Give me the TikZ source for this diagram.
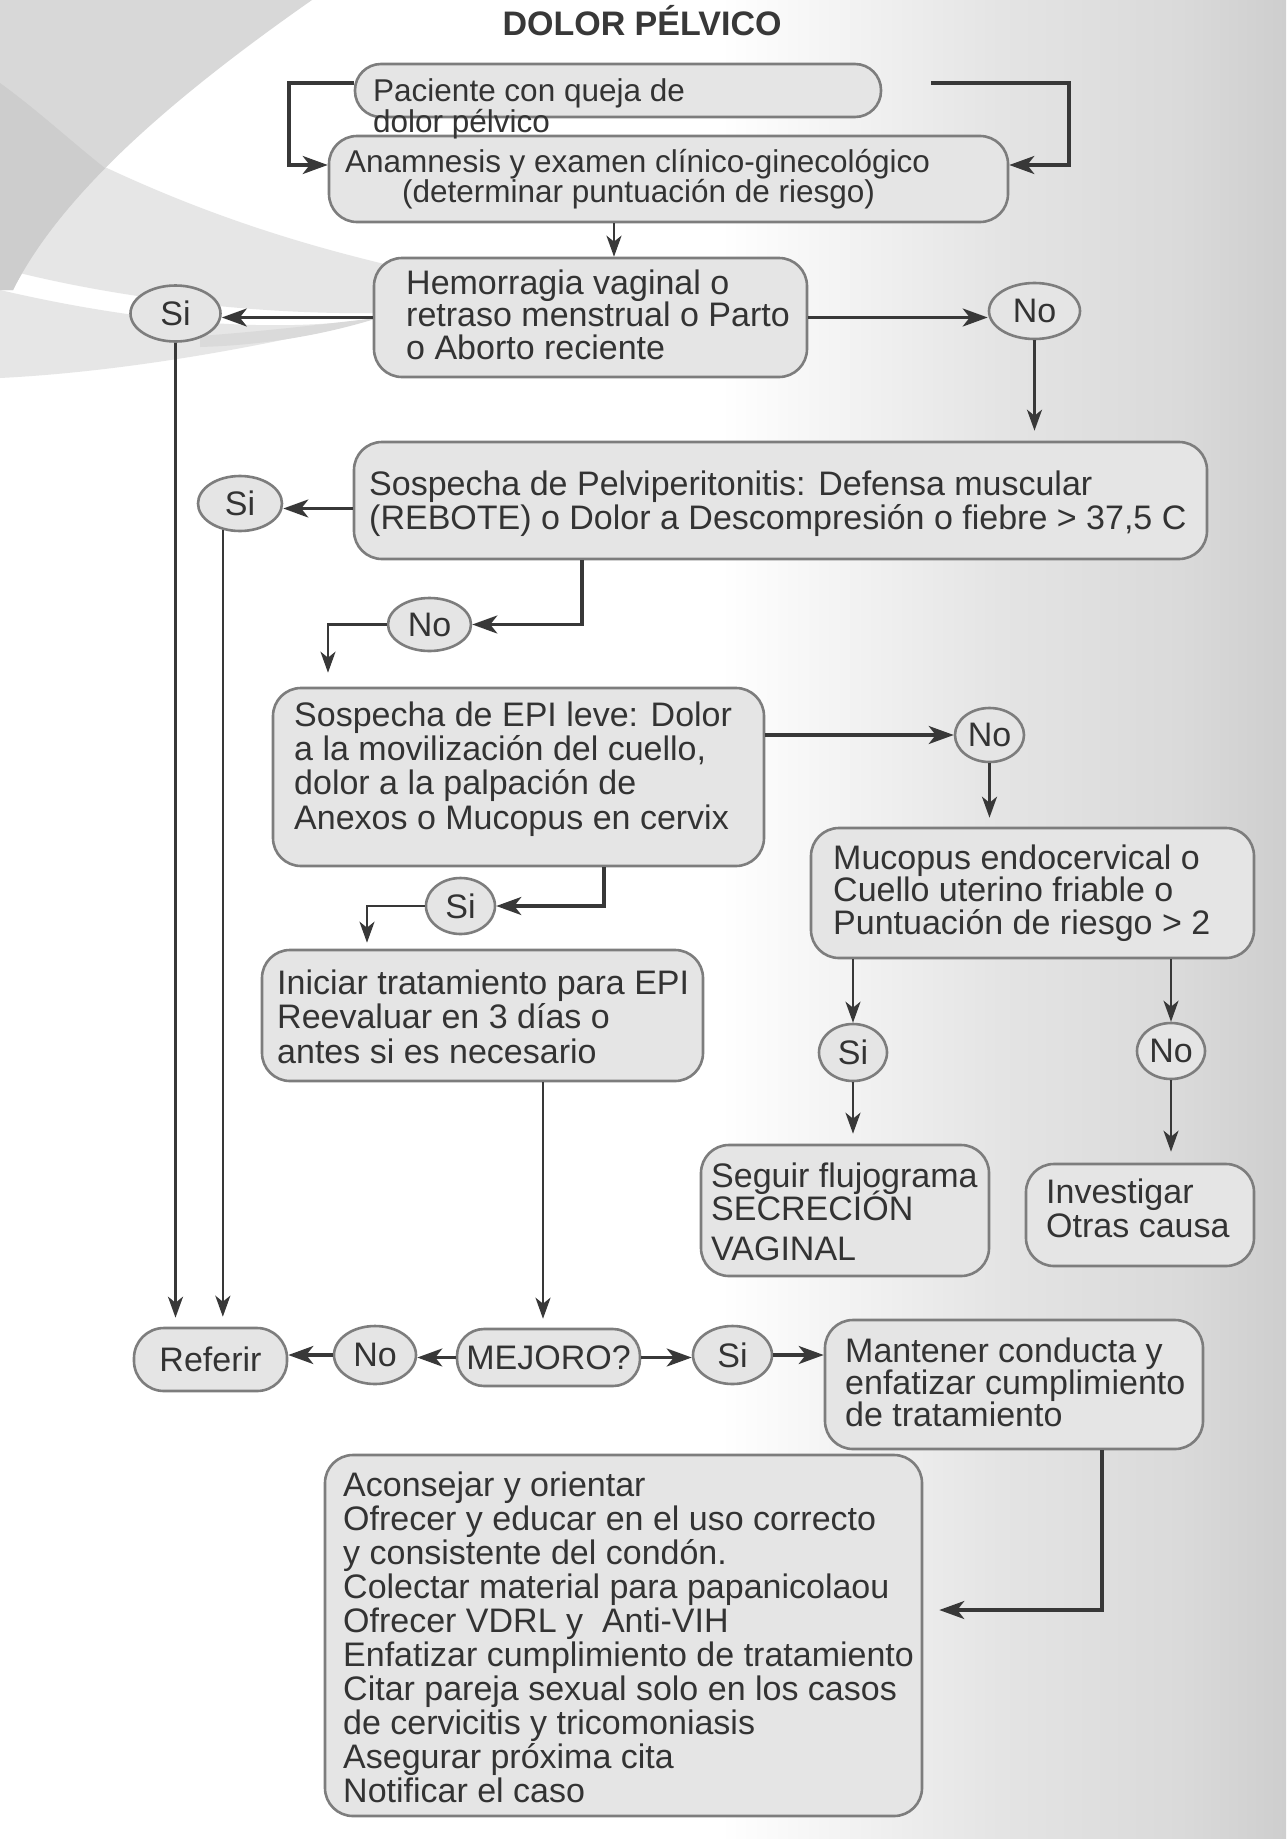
\documentclass[tikz,border=0pt]{standalone}
\usepackage{fontspec}
\setmainfont{Liberation Sans}
\usetikzlibrary{arrows.meta,shapes.geometric}

\definecolor{boxfill}{HTML}{E5E5E5}
\definecolor{boxline}{HTML}{7D7D7D}
\definecolor{ink}{HTML}{383838}
\definecolor{txtc}{HTML}{333333}
\definecolor{swoA}{HTML}{D8D8D8}
\definecolor{swoB}{HTML}{CDCDCD}
\definecolor{swoC}{HTML}{E6E6E6}
\definecolor{swoD}{HTML}{DADADA}
\definecolor{grA}{HTML}{E4E4E4}
\definecolor{grB}{HTML}{DADADA}
\definecolor{grC}{HTML}{CECECE}

% body text with a chosen line pitch
\newcommand\bodyfont[1]{\fontsize{34}{#1}\selectfont\lineskiplimit=-100pt\relax}
\newcommand\smallfont[1]{\fontsize{31.5}{#1}\selectfont\lineskiplimit=-100pt\relax}
% strut: 27pt above the baseline, 7pt below
\newcommand\ts{\rule[-7pt]{0pt}{34pt}}

\tikzset{
  box/.style={draw=boxline, fill=boxfill, line width=2.6pt, rounded corners=28pt, inner sep=0pt},
  dec/.style={ellipse, draw=boxline, fill=boxfill, line width=2.6pt, inner sep=0pt,
              text=txtc, font=\bodyfont{34}},
  txt/.style={anchor=north west, inner sep=0pt, align=left, text=txtc},
  con/.style={draw=ink, line width=2.6pt, -{Stealth[length=21pt,width=15pt,inset=6pt]}},
  conb/.style={draw=ink, line width=3.2pt, -{Stealth[length=25pt,width=18pt,inset=7pt]}},
}

\begin{document}
\begin{tikzpicture}[x=1pt,y=-1pt]
\useasboundingbox (0,0) rectangle (1286,1839);

% ---------- background ----------
\fill[white] (0,0) rectangle (1286,1839);
\shade[left color=white, right color=grA] (720,0) rectangle (1000,1839);
\shade[left color=grA, right color=grB] (1000,0) rectangle (1181,1839);
\shade[left color=grB, right color=grC] (1180,0) rectangle (1286,1839);

% swooshes in the upper left corner
\fill[swoC] (90,160) .. controls (200,213) and (300,245) .. (410,270)
  -- (410,312) .. controls (280,318) and (120,300) .. (0,268) -- (0,160) -- cycle;
\fill[swoC] (0,290) .. controls (120,318) and (260,336) .. (378,318)
  .. controls (260,348) and (120,372) .. (0,378) -- cycle;
\fill[swoD] (200,336) .. controls (280,330) and (340,322) .. (378,318)
  .. controls (330,333) and (270,345) .. (200,347) -- cycle;
\fill[swoA] (0,0) -- (312,0) .. controls (182,91) and (63,190) .. (13,290) -- (0,290) -- cycle;
\begin{scope}
  \clip (0,0) -- (312,0) .. controls (182,91) and (63,190) .. (13,290) -- (0,290) -- cycle;
  \fill[swoB] (0,83) .. controls (40,112) and (75,145) .. (110,172) -- (220,172)
    -- (220,300) -- (0,300) -- cycle;
\end{scope}

% ---------- title ----------
\node[font=\bfseries\fontsize{34}{34}\selectfont, text=ink, anchor=base] (title)
  at (642,35) {DOLOR PÉLVICO};

% ---------- boxes ----------
\node[box, minimum width=526pt, minimum height=53pt, rounded corners=26pt] (b1) at (618,90.5) {};
\node[box, minimum width=679pt, minimum height=86pt] (b2) at (668.5,179) {};
\node[box, minimum width=433pt, minimum height=119pt] (b3) at (590.5,317.5) {};
\node[box, minimum width=853pt, minimum height=117pt] (b4) at (780.5,500.5) {};
\node[box, minimum width=491pt, minimum height=178pt] (b5) at (518.5,777) {};
\node[box, minimum width=443pt, minimum height=130pt] (b6) at (1032.5,893) {};
\node[box, minimum width=441pt, minimum height=131pt] (b7) at (482.5,1015.5) {};
\node[box, minimum width=288pt, minimum height=131pt] (b8) at (845,1210.5) {};
\node[box, minimum width=228pt, minimum height=102pt] (b9) at (1140,1215) {};
\node[box, minimum width=378pt, minimum height=129pt] (b10) at (1014,1384.5) {};
\node[box, minimum width=597pt, minimum height=361pt] (b11) at (623.5,1635.5) {};
\node[box, minimum width=153pt, minimum height=63pt, rounded corners=30pt,
      font=\bodyfont{34}, text=txtc] (ref) at (210.5,1359.5) {Referir};
\node[box, minimum width=183pt, minimum height=57pt, rounded corners=27pt,
      font=\bodyfont{34}, text=txtc] (mej) at (548.5,1357.5) {MEJORO?};

% ---------- yes / no decisions ----------
\node[dec, minimum width=90pt, minimum height=56pt] (si1) at (175.5,313.5) {Si};
\node[dec, minimum width=91pt, minimum height=56pt] (no1) at (1034.5,311) {No};
\node[dec, minimum width=84pt, minimum height=55pt] (si2) at (240,503.5) {Si};
\node[dec, minimum width=83pt, minimum height=53pt] (no2) at (429.5,624.5) {No};
\node[dec, minimum width=69pt, minimum height=54pt] (no3) at (989.5,735) {No};
\node[dec, minimum width=69pt, minimum height=56pt] (si3) at (460.5,906) {Si};
\node[dec, minimum width=68pt, minimum height=57pt] (si4) at (853,1052.5) {Si};
\node[dec, minimum width=68pt, minimum height=56pt] (no4) at (1171,1051) {No};
\node[dec, minimum width=82pt, minimum height=58pt] (no5) at (375,1355) {No};
\node[dec, minimum width=79pt, minimum height=58pt] (si5) at (732.5,1355) {Si};

% ---------- box texts ----------
\node[txt, font=\smallfont{31}] (t1) at (373,74)
  {\ts Paciente con queja de\\dolor pélvico};
\node[txt, font=\smallfont{30}] (t2) at (345,145)
  {\ts Anamnesis y examen clínico-ginecológico\\\hspace*{57pt}(determinar puntuación de riesgo)};
\node[txt, font=\bodyfont{32.5}] (t3) at (406,267)
  {\ts Hemorragia vaginal o\\retraso menstrual o Parto\\o Aborto reciente};
\node[txt, font=\bodyfont{34}] (t4) at (369,468)
  {\ts Sospecha de Pelviperitonitis: Defensa muscular\\(REBOTE) o Dolor a Descompresión o fiebre > 37,5 C};
\node[txt, font=\bodyfont{34.3}] (t5) at (294,699)
  {\ts Sospecha de EPI leve: Dolor\\a la movilización del cuello,\\dolor a la palpación de\\Anexos o Mucopus en cervix};
\node[txt, font=\bodyfont{32.5}] (t6) at (833,842)
  {\ts Mucopus endocervical o\\Cuello uterino friable o\\Puntuación de riesgo > 2};
\node[txt, font=\bodyfont{34.5}] (t7) at (277,967)
  {\ts Iniciar tratamiento para EPI\\Reevaluar en 3 días o\\antes si es necesario};
\node[txt, font=\bodyfont{33}] (t8) at (711,1160)
  {\ts Seguir flujograma\\SECRECIÓN\\[7pt]VAGINAL};
\node[txt, font=\bodyfont{34}] (t9) at (1046,1176)
  {\ts Investigar\\Otras causa};
\node[txt, font=\bodyfont{32}] (t10) at (845,1335)
  {\ts Mantener conducta y\\enfatizar cumplimiento\\de tratamiento};
\node[txt, font=\bodyfont{34}] (t11) at (343,1469)
  {\ts Aconsejar y orientar\\Ofrecer y educar en el uso correcto\\y consistente del condón.\\Colectar material para papanicolaou\\Ofrecer VDRL y~ Anti-VIH\\Enfatizar cumplimiento de tratamiento\\Citar pareja sexual solo en los casos\\de cervicitis y tricomoniasis\\Asegurar próxima cita\\Notificar el caso};

% ---------- connectors ----------
\coordinate (rs) at (931,83);
\coordinate (lb) at ([yshift=7.5pt]b1.west);
\coordinate (s2a) at ([yshift=-8pt]b4.west);

\draw[conb] (lb) -| (289,165) -- (b2.west |- 289,165);
\draw[conb] (rs) -| (1069,165) -- (b2.east |- 1069,165);
\draw[con] (b2.south -| 614,0) -- (b3.north -| 614,0);

\draw[conb] (b3.west) -- (b3.west -| si1.east);
\draw[conb] (b3.east) -- (b3.east -| no1.west);
\draw[con, shorten >=10pt] (no1.south) -- (no1.south |- b4.north);

\draw[conb] (s2a) -- (s2a -| si2.east);
\draw[conb] (b4.south -| 582,0) |- (no2.east);
\draw[con, shorten >=14pt] (no2.west) -| (b5.north -| 328,0);

\draw[conb] (b5.east |- no3.west) -- (no3.west);
\draw[con, shorten >=9pt] (no3.south) -- (no3.south |- b6.north);
\draw[conb] (b5.south -| 604,0) |- (si3.east);
\draw[con, shorten >=6pt] (si3.west) -| (b7.north -| 367,0);

\draw[con] (si4.north |- b6.south) -- (si4.north);
\draw[con] (no4.north |- b6.south) -- (no4.north);
\draw[con, shorten >=10pt] (si4.south) -- (si4.south |- b8.north);
\draw[con, shorten >=11pt] (no4.south) -- (no4.south |- b9.north);

\draw[con, shorten >=9pt] (si1.south) -- (si1.south |- ref.north);
\draw[con, shorten >=10pt] (si2.237) -- (si2.237 |- ref.north);
\draw[con, shorten >=9pt] (b7.south -| 543,0) -- (mej.north -| 543,0);

\draw[conb] (mej.west) -- (mej.west -| no5.east);
\draw[conb] (no5.west) -- (no5.west -| ref.east);
\draw[conb] (mej.east) -- (mej.east -| si5.west);
\draw[conb] (si5.east) -- (si5.east -| b10.west);
\draw[conb, shorten >=16pt] (b10.south -| 1102,0) |- (b11.east |- 0,1610);

\end{tikzpicture}
\end{document}
